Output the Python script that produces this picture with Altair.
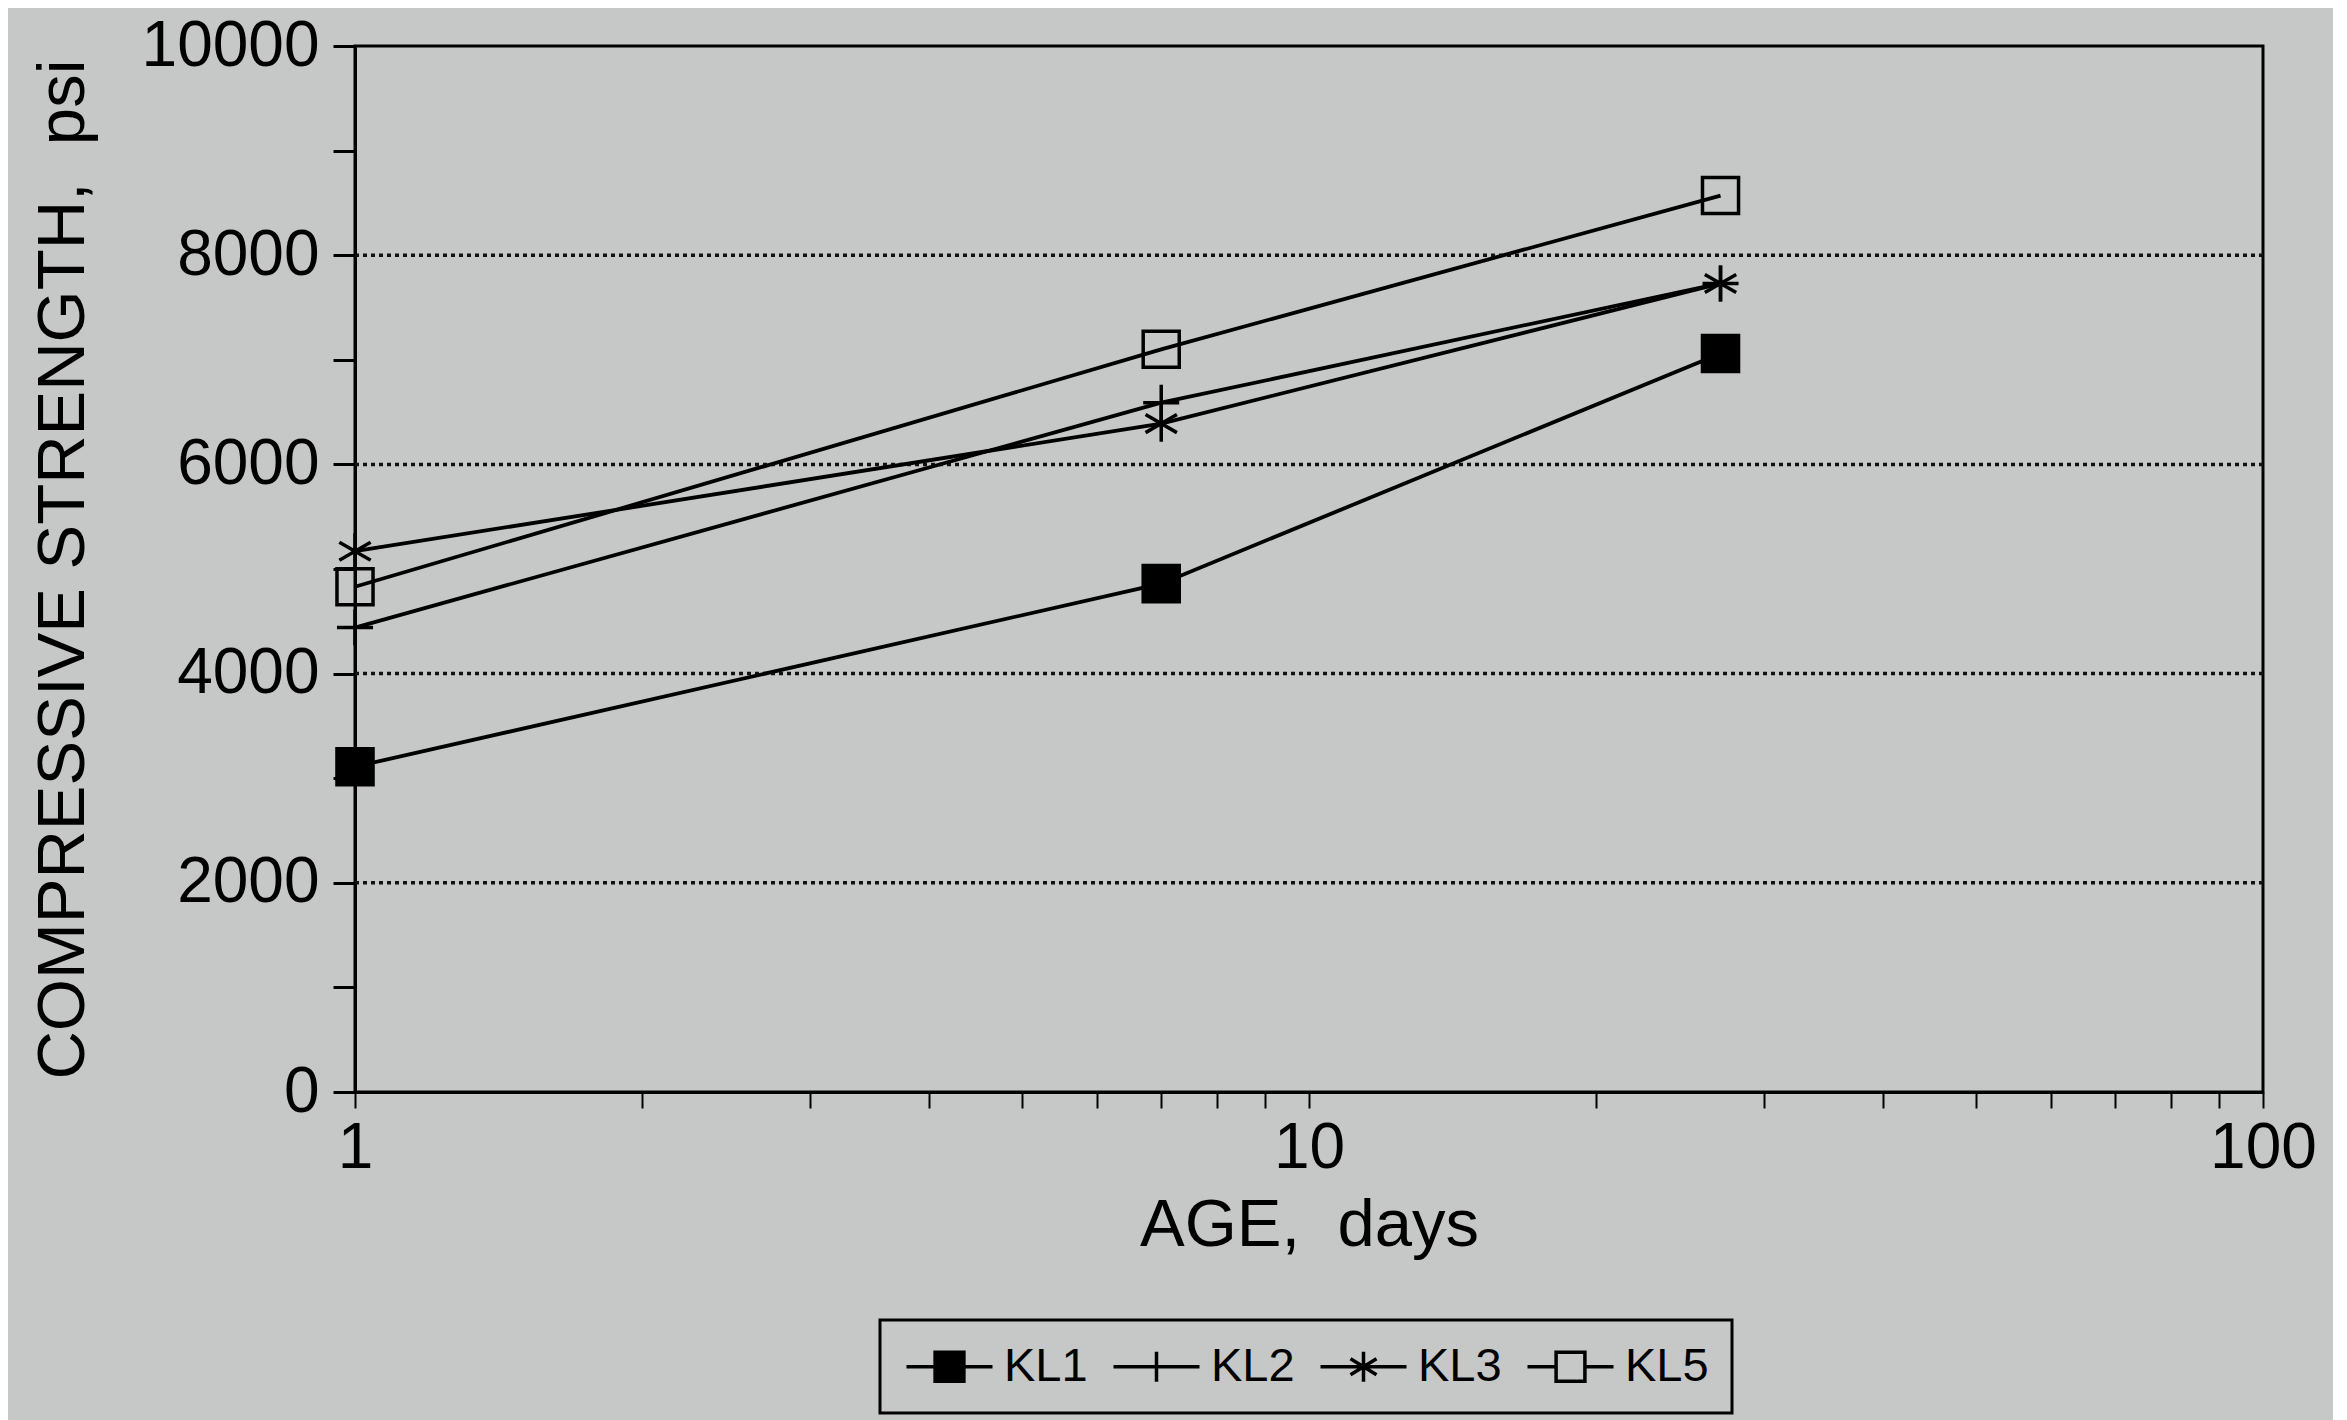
import altair as alt
import pandas as pd

series = ["KL1", "KL2", "KL3", "KL5"]
ages = [1, 7, 27]
kl1 = [3110, 4860, 7060]
kl2 = [4440, 6590, 7730]
kl3 = [5170, 6390, 7730]
kl5 = [4830, 7100, 8570]
grid_vals = [2000, 4000, 6000, 8000]
x_ticks = [1, 2, 3, 4, 5, 6, 7, 8, 9, 10, 20, 30, 40, 50, 60, 70, 80, 90, 100]
y_ticks = list(range(0, 10001, 1000))

rows = []
for name, vals in zip(series, [kl1, kl2, kl3, kl5]):
    for a, v in zip(ages, vals):
        rows.append({"series": name, "mix": name, "age": a, "strength": v})
df = pd.DataFrame(rows)
gdf = pd.DataFrame({"g": grid_vals})

FONT = "Liberation Sans"
BG = "#c6c8c7"
NB = "\u00a0"

# marker paths for the plot
sq = "M-1,-1H1V1H-1Z"
plus = "M-1,0H1M0,-1V1"
star = "M0,-1V1M-0.87,-0.5L0.87,0.5M-0.87,0.5L0.87,-0.5"
shape_range = [sq, plus, star, sq]

# legend paths (line stub + marker); r = 20px per unit, stubs reach +-2.15 units
lsq = "M-2.15,0H-0.72M0.72,0H2.15M-0.72,-0.72H0.72V0.72H-0.72Z"
lplus = "M-2.15,0H2.15M0,-0.75V0.75"
lstar = "M-2.15,0H2.15M0,-0.75V0.75M-0.65,-0.4L0.65,0.4M-0.65,0.4L0.65,-0.4"
legend_range = [lsq, lplus, lstar, lsq]
fill_range = ["black", "transparent", "transparent", "transparent"]
stroke_range = ["black", "black", "black", "black"]

x_enc = alt.X(
    "age:Q",
    scale=alt.Scale(type="log", domain=[1, 100]),
    axis=alt.Axis(
        values=x_ticks,
        labelExpr="(datum.value == 1 || datum.value == 10 || datum.value == 100) ? datum.label : ''",
        format="d",
        title="AGE," + NB + " days",
        grid=False,
        tickSize=16,
        tickWidth=2,
        domainWidth=3,
        labelPadding=8,
        labelFlush=False,
        titlePadding=12,
    ),
)
y_enc = alt.Y(
    "strength:Q",
    scale=alt.Scale(domain=[0, 10000], nice=False),
    axis=alt.Axis(
        values=y_ticks,
        labelExpr="datum.value % 2000 == 0 ? datum.label : ''",
        format="d",
        title="COMPRESSIVE STRENGTH," + NB + " psi",
        grid=False,
        tickSize=22,
        tickWidth=3,
        domainWidth=3,
        labelPadding=14,
        titlePadding=58,
    ),
)

grid = alt.Chart(gdf).mark_rule(color="#111111", strokeWidth=3.5, strokeDash=[4, 4]).encode(
    y=alt.Y("g:Q", scale=alt.Scale(domain=[0, 10000], nice=False))
)

lines = alt.Chart(df).mark_line(color="black", strokeWidth=3.8).encode(
    x=x_enc, y=y_enc, detail="series:N"
)

points = alt.Chart(df).mark_point(size=1300, strokeWidth=3.5, color="black", opacity=1).encode(
    x=x_enc,
    y=y_enc,
    shape=alt.Shape("series:N", scale=alt.Scale(domain=series, range=shape_range), legend=None),
    fill=alt.Fill("series:N", scale=alt.Scale(domain=series, range=fill_range), legend=None),
)

leg = alt.Legend(
    title=None,
    orient="none",
    legendX=525,
    legendY=1274,
    direction="horizontal",
    symbolSize=1600,
    symbolOffset=23,
    symbolStrokeWidth=3.5,
    labelFontSize=47,
    labelFont=FONT,
    labelColor="black",
    labelOffset=31,
    columnPadding=18,
    padding=23,
    strokeColor="black",
)

legend_pts = alt.Chart(df).mark_point(size=0, strokeWidth=3.5, color="black", opacity=1).encode(
    x=x_enc,
    y=y_enc,
    shape=alt.Shape("mix:N", scale=alt.Scale(domain=series, range=legend_range), legend=leg),
    fill=alt.Fill("mix:N", scale=alt.Scale(domain=series, range=fill_range), legend=leg),
    stroke=alt.Stroke("mix:N", scale=alt.Scale(domain=series, range=stroke_range), legend=leg),
)

chart = (
    alt.layer(grid, lines, points, legend_pts)
    .resolve_scale(shape="independent", fill="independent", stroke="independent")
    .properties(
        width=1908,
        height=1046,
        background=BG,
        padding={"left": 347, "top": 38, "right": 70, "bottom": 328},
        autosize=alt.AutoSizeParams(type="none"),
    )
    .configure_view(stroke="black", strokeWidth=3)
    .configure_axis(
        labelFont=FONT,
        titleFont=FONT,
        labelFontSize=64,
        titleFontSize=67,
        titleFontWeight="normal",
        labelColor="black",
        titleColor="black",
        domainColor="black",
        tickColor="black",
        labelLimit=500,
        titleLimit=2000,
    )
    .configure_legend(strokeWidth=3)
)

chart.save("out.html", embed_options={"renderer": "svg", "actions": False})
